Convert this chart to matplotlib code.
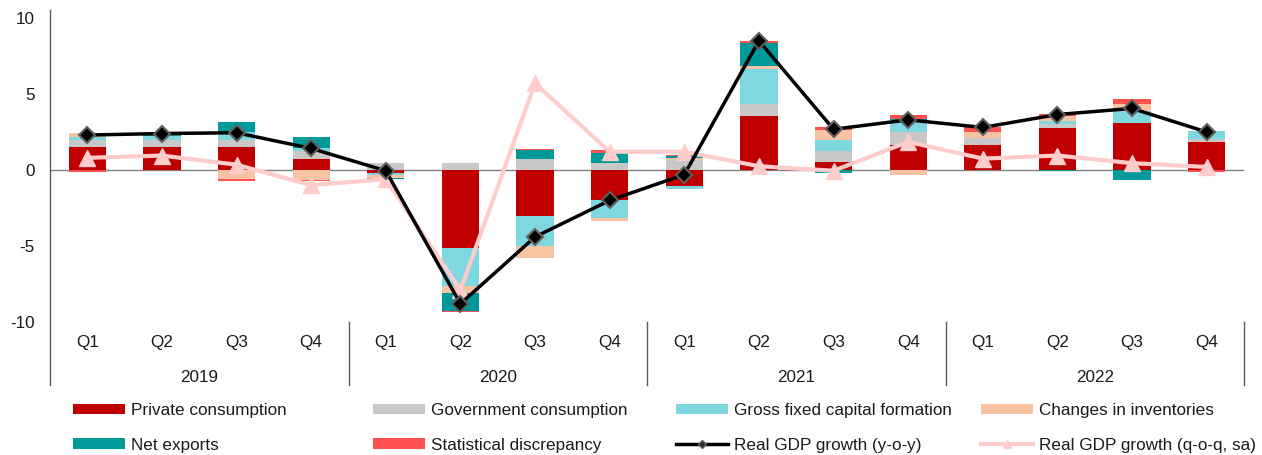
import matplotlib
matplotlib.use("Agg")
import matplotlib.pyplot as plt
import numpy as np
from matplotlib.patches import Patch
from matplotlib.lines import Line2D

plt.rcParams['font.family'] = ['Liberation Sans', 'DejaVu Sans']
plt.rcParams['axes.unicode_minus'] = False

quarters = ["Q1", "Q2", "Q3", "Q4"] * 4
years = ["2019", "2020", "2021", "2022"]

private = [1.5, 1.5, 1.5, 0.72, -0.2, -5.15, -3.0, -2.0, -1.05, 3.57, 0.55, 1.64, 1.67, 2.74, 3.07, 1.86]
government = [0.49, 0.48, 0.48, 0.5, 0.44, 0.48, 0.72, 0.46, 0.68, 0.75, 0.7, 0.88, 0.44, 0.28, 0.03, 0.18]
gfcf = [0.18, 0.25, 0.5, 0.22, -0.12, -2.48, -1.97, -1.16, -0.22, 2.3, 0.75, 0.77, 0.0, 0.22, 0.79, 0.5]
inventories = [0.26, 0.0, -0.59, -0.66, -0.2, -0.44, -0.81, -0.22, 0.12, 0.22, 0.61, -0.3, 0.42, 0.33, 0.44, 0.05]
net_exports = [0.0, 0.12, 0.66, 0.7, -0.05, -1.2, 0.59, 0.64, 0.15, 1.49, -0.17, 0.05, 0.0, -0.09, -0.64, 0.0]
stat_disc = [-0.15, 0.0, -0.15, -0.09, 0.05, -0.09, 0.07, 0.22, 0.05, 0.18, 0.22, 0.26, 0.28, 0.13, 0.31, -0.15]
gdp_yoy = [2.3, 2.4, 2.45, 1.42, -0.05, -8.8, -4.4, -2.0, -0.3, 8.5, 2.68, 3.3, 2.8, 3.65, 4.05, 2.5]
gdp_qoq = [0.8, 0.95, 0.35, -1.0, -0.6, -7.9, 5.7, 1.2, 1.2, 0.25, -0.05, 1.85, 0.75, 0.95, 0.45, 0.2]

series = [
    ("Private consumption", private, "#C00000"),
    ("Government consumption", government, "#C8C8C8"),
    ("Gross fixed capital formation", gfcf, "#7FD8E0"),
    ("Changes in inventories", inventories, "#F7C3A3"),
    ("Net exports", net_exports, "#009999"),
    ("Statistical discrepancy", stat_disc, "#FF5050"),
]

FS = 12.3
W, H = 1262, 455
fig = plt.figure(figsize=(W / 100, H / 100), dpi=100)
ax_left, ax_right, ax_top, ax_bot = 50, 1244, 18, 322
ax = fig.add_axes([ax_left / W, 1 - ax_bot / H, (ax_right - ax_left) / W, (ax_bot - ax_top) / H])

x = np.arange(len(quarters))
pos_base = np.zeros(len(x))
neg_base = np.zeros(len(x))
handles = {}
for name, vals, col in series:
    v = np.array(vals, dtype=float)
    pos = np.where(v > 0, v, 0)
    neg = np.where(v < 0, v, 0)
    ax.bar(x, pos, 0.5, bottom=pos_base, color=col, zorder=2)
    ax.bar(x, neg, 0.5, bottom=neg_base, color=col, zorder=2)
    pos_base += pos
    neg_base += neg
    handles[name] = Patch(facecolor=col, edgecolor='none')

ax.axhline(0, color="#808080", lw=1.0, zorder=1)

ax.plot(x, gdp_qoq, color="#FFCCCC", lw=3, marker="^", ms=11.5, mfc="#FFCCCC",
        mec="#FFCCCC", zorder=3)
ax.plot(x, gdp_yoy, color="black", lw=2.5, marker="D", ms=8.5, mfc="black",
        mec="#606060", mew=1.5, zorder=4)

handles["Real GDP growth (y-o-y)"] = Line2D([], [], color="black", lw=2.5, marker="D",
                                            ms=4, mfc="#303030", mec="#606060")
handles["Real GDP growth (q-o-q, sa)"] = Line2D([], [], color="#FFCCCC", lw=3, marker="^",
                                                ms=6, mfc="#FFCCCC", mec="#FFCCCC")

ax.set_xlim(-0.5, len(x) - 0.5)
ax.set_ylim(-10, 10)
ax.set_yticks([-10, -5, 0, 5, 10])
ax.tick_params(axis='y', length=0, labelsize=FS, pad=11, colors="#1a1a1a")
ax.set_xticks([])
for s in ["top", "right", "bottom", "left"]:
    ax.spines[s].set_visible(False)

def py(pix):
    return 10 - (pix - ax_top) / (ax_bot - ax_top) * 20

ax.plot([-0.5, -0.5], [py(10), py(385)], color="#595959", lw=1.0, clip_on=False)
for b in [3.5, 7.5, 11.5, 15.5]:
    ax.plot([b, b], [-10, py(385)], color="#595959", lw=1.0, clip_on=False)

for i, q in enumerate(quarters):
    ax.text(i, py(342), q, ha="center", va="center", fontsize=FS, color="#1a1a1a", clip_on=False)
for k, yr in enumerate(years):
    ax.text(4 * k + 1.5, py(377), yr, ha="center", va="center", fontsize=FS, color="#1a1a1a", clip_on=False)

cols = [
    ["Private consumption", "Net exports"],
    ["Government consumption", "Statistical discrepancy"],
    ["Gross fixed capital formation", "Real GDP growth (y-o-y)"],
    ["Changes in inventories", "Real GDP growth (q-o-q, sa)"],
]
col_x = [73, 373, 676, 981]
for cx, names in zip(col_x, cols):
    lg = fig.legend([handles[n] for n in names], names, loc="upper left",
                    bbox_to_anchor=(cx / W, 1 - 403 / H), frameon=False, fontsize=FS,
                    handlelength=52 / (FS * 100 / 72), handleheight=0.6, handletextpad=0.35,
                    labelspacing=1.15, borderpad=0, borderaxespad=0)
    for t in lg.get_texts():
        t.set_color("#1a1a1a")

fig.savefig("out.png", dpi=100)
